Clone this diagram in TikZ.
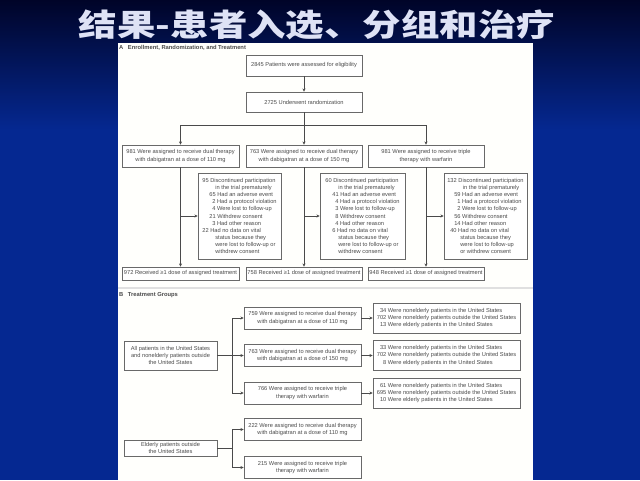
\documentclass[tikz,border=0pt]{standalone}
\usepackage{fontspec}
\setmainfont{Liberation Sans}
\newfontfamily\cjk{Noto Sans CJK SC}
\usetikzlibrary{arrows.meta}
\definecolor{slideblue}{RGB}{5,40,145}
\definecolor{slidetop}{RGB}{0,4,40}
\definecolor{boxline}{RGB}{105,105,105}
\definecolor{boxtext}{RGB}{75,75,75}
\definecolor{titletext}{RGB}{222,226,245}
\tikzset{
	box/.style={draw=boxline,line width=0.7pt,fill=white,inner sep=0pt,align=center,text=boxtext,font=\fontsize{5.7}{7.05}\selectfont},
	listbox/.style={box,align=left},
	link/.style={draw=boxline!70!black,line width=0.6pt},
	linkarrow/.style={link,-{Stealth[length=3.2pt,width=3pt]}},
	panelhead/.style={anchor=west,inner sep=0pt,text=boxtext,font=\fontsize{5.8}{7}\selectfont\bfseries}
}
\newcommand{\nosub}{\hspace*{13pt}}
\newcommand{\subtwo}{\hspace*{7pt}}
\newcommand{\subone}{\hspace*{10pt}}
\begin{document}
\begin{tikzpicture}[x=1pt,y=1pt]
	\useasboundingbox (0,0) rectangle (640,-480);
	\fill[slideblue] (0,0) rectangle (640,-480);
	\shade[top color=slidetop,bottom color=slideblue] (0,0) rectangle (640,-130);
	\fill[white!99!yellow] (118,-43) rectangle (533,-480);
	\fill[black!12] (118,-287) rectangle (533,-289);
	\node[text=titletext,inner sep=0pt,xscale=1.24,font=\cjk\bfseries\fontsize{31}{34}\selectfont] (title) at (317,-25) {结果-患者入选、分组和治疗};
	% panel A
	\node[panelhead] (heada) at (119,-48) {A\hspace{3pt} Enrollment, Randomization, and Treatment};
	\node[box,minimum width=116pt,minimum height=21pt] (assess) at (304,-65.5) {2845 Patients were assessed for eligibility};
	\node[box,minimum width=116pt,minimum height=20pt] (rand) at (304,-102) {2725 Underwent randomization};
	\coordinate (forka) at (304,-125);
	\node[box,minimum width=117pt,minimum height=22pt] (assigna) at (180.5,-156) {981 Were assigned to receive dual therapy\\with dabigatran at a dose of 110 mg};
	\node[box,minimum width=116pt,minimum height=22pt] (assignb) at (304,-156) {763 Were assigned to receive dual therapy\\with dabigatran at a dose of 150 mg};
	\node[box,minimum width=116pt,minimum height=22pt] (assignc) at (426,-156) {981 Were assigned to receive triple\\therapy with warfarin};
	\node[listbox,minimum width=83pt,minimum height=86pt] (excla) at (239.5,-216) {95 Discontinued participation\\\nosub in the trial prematurely\\\subtwo 65 Had an adverse event\\\subone 2 Had a protocol violation\\\subone 4 Were lost to follow-up\\\subtwo 21 Withdrew consent\\\subone 3 Had other reason\\22 Had no data on vital\\\nosub status because they\\\nosub were lost to follow-up or\\\nosub withdrew consent};
	\node[listbox,minimum width=85pt,minimum height=86pt] (exclb) at (362.5,-216) {60 Discontinued participation\\\nosub in the trial prematurely\\\subtwo 41 Had an adverse event\\\subone 4 Had a protocol violation\\\subone 3 Were lost to follow-up\\\subone 8 Withdrew consent\\\subone 4 Had other reason\\\subtwo 6 Had no data on vital\\\nosub status because they\\\nosub were lost to follow-up or\\\nosub withdrew consent};
	\node[listbox,minimum width=83pt,minimum height=86pt] (exclc) at (485.5,-216) {132 Discontinued participation\\\nosub\hspace*{1pt} in the trial prematurely\\\subtwo 59 Had an adverse event\\\subone 1 Had a protocol violation\\\subone 2 Were lost to follow-up\\\subtwo 56 Withdrew consent\\\subtwo 14 Had other reason\\\hspace*{3pt}40 Had no data on vital\\\nosub status because they\\\nosub were lost to follow-up\\\nosub or withdrew consent};
	\node[box,minimum width=117pt,minimum height=13pt] (recva) at (180.5,-273.5) {972 Received ≥1 dose of assigned treatment};
	\node[box,minimum width=116pt,minimum height=13pt] (recvb) at (304,-273.5) {758 Received ≥1 dose of assigned treatment};
	\node[box,minimum width=116pt,minimum height=13pt] (recvc) at (426,-273.5) {948 Received ≥1 dose of assigned treatment};
	\draw[linkarrow] (assess) -- (rand);
	\draw[link] (rand) -- (forka);
	\draw[linkarrow] (forka) -| (assigna.north);
	\draw[linkarrow] (forka) -- (assignb.north);
	\draw[linkarrow] (forka) -| (assignc.north);
	\draw[linkarrow] (assigna) -- (recva);
	\draw[linkarrow] (assignb) -- (recvb);
	\draw[linkarrow] (assignc) -- (recvc);
	\draw[linkarrow] (assigna.south |- excla.west) -- (excla.west);
	\draw[linkarrow] (assignb.south |- exclb.west) -- (exclb.west);
	\draw[linkarrow] (assignc.south |- exclc.west) -- (exclc.west);
	% panel B
	\node[panelhead] (headb) at (119,-295) {B\hspace{3pt} Treatment Groups};
	\node[box,minimum width=93pt,minimum height=29pt] (allpts) at (170.5,-355.5) {All patients in the United States\\and nonelderly patients outside\\the United States};
	\node[box,minimum width=93pt,minimum height=16pt] (elderly) at (170.5,-448) {Elderly patients outside\\the United States};
	\coordinate (forkb) at (232,-355.5);
	\coordinate (forkc) at (232,-448);
	\node[box,minimum width=117pt,minimum height=22pt] (groupa) at (302.5,-318) {759 Were assigned to receive dual therapy\\with dabigatran at a dose of 110 mg};
	\node[box,minimum width=117pt,minimum height=22pt] (groupb) at (302.5,-355.5) {763 Were assigned to receive dual therapy\\with dabigatran at a dose of 150 mg};
	\node[box,minimum width=117pt,minimum height=22pt] (groupc) at (302.5,-393) {766 Were assigned to receive triple\\therapy with warfarin};
	\node[box,minimum width=117pt,minimum height=22pt] (groupd) at (302.5,-429.5) {222 Were assigned to receive dual therapy\\with dabigatran at a dose of 110 mg};
	\node[box,minimum width=117pt,minimum height=22pt] (groupe) at (302.5,-467.5) {215 Were assigned to receive triple\\therapy with warfarin};
	\node[listbox,minimum width=147pt,minimum height=30pt] (siteca) at (446.5,-318) {\hphantom{0}34 Were nonelderly patients in the United States\\702 Were nonelderly patients outside the United States\\\hphantom{0}13 Were elderly patients in the United States};
	\node[listbox,minimum width=147pt,minimum height=30pt] (sitecb) at (446.5,-355.5) {\hphantom{0}33 Were nonelderly patients in the United States\\702 Were nonelderly patients outside the United States\\\hphantom{00}8 Were elderly patients in the United States};
	\node[listbox,minimum width=147pt,minimum height=30pt] (sitecc) at (446.5,-393) {\hphantom{0}61 Were nonelderly patients in the United States\\695 Were nonelderly patients outside the United States\\\hphantom{0}10 Were elderly patients in the United States};
	\draw[linkarrow] (allpts) -- (groupb);
	\draw[linkarrow] (forkb) |- (groupa.west);
	\draw[linkarrow] (forkb) |- (groupc.west);
	\draw[link] (elderly) -- (forkc);
	\draw[linkarrow] (forkc) |- (groupd.west);
	\draw[linkarrow] (forkc) |- (groupe.west);
	\draw[linkarrow] (groupa) -- (siteca);
	\draw[linkarrow] (groupb) -- (sitecb);
	\draw[linkarrow] (groupc) -- (sitecc);
\end{tikzpicture}
\end{document}
